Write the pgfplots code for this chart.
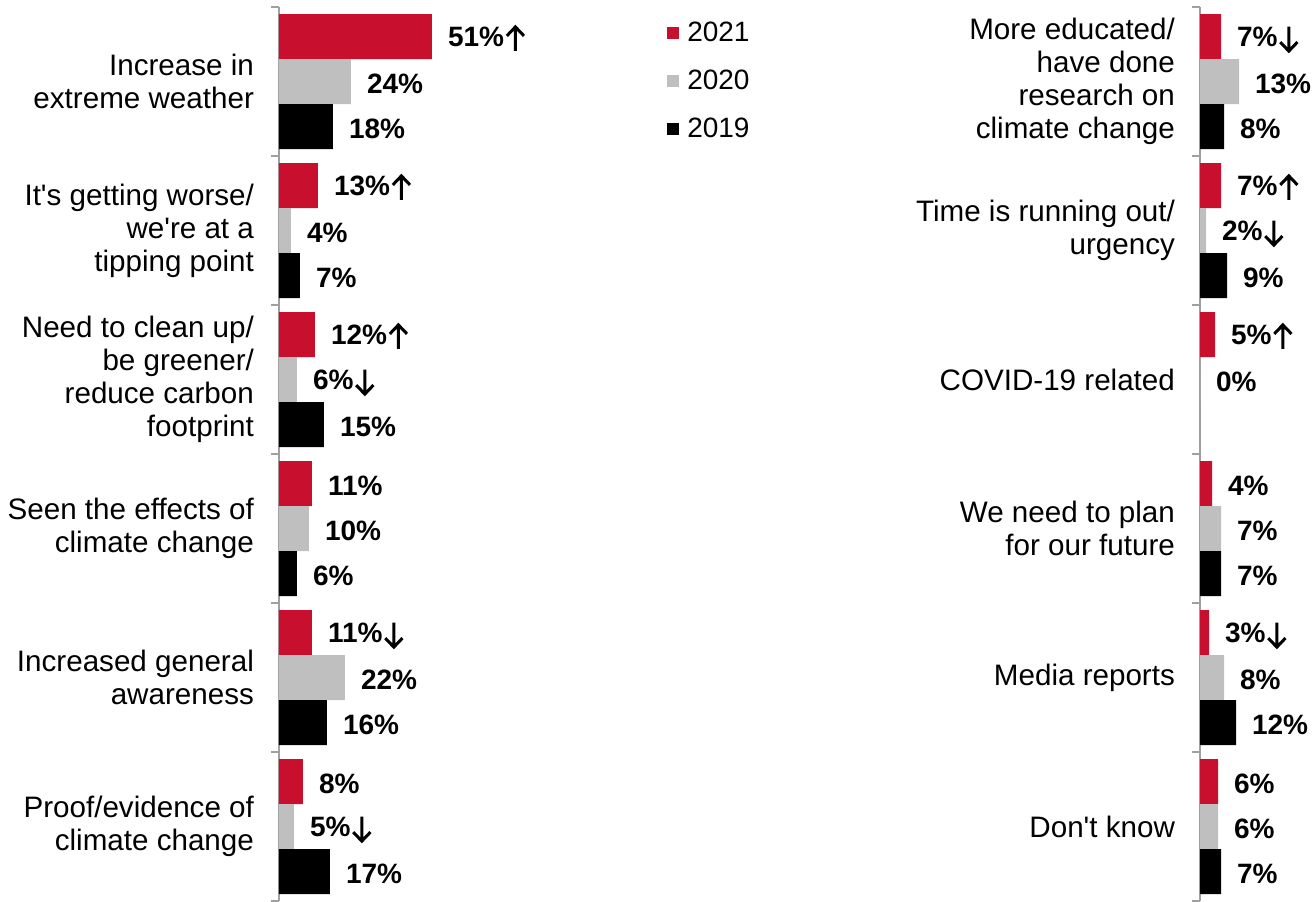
\documentclass[border=0pt]{standalone}
\usepackage{pgfplots}
\pgfplotsset{compat=1.18}
\usepackage{fontspec}
\setmainfont{Liberation Sans}
\newsavebox\upbox
\newsavebox\dnbox
\newcommand\up{\hspace{0.6pt}\usebox\upbox}
\newcommand\dn{\hspace{0.6pt}\usebox\dnbox}
\definecolor{cred}{RGB}{200,16,46}
\definecolor{cgrey}{RGB}{191,191,191}
\definecolor{caxis}{RGB}{160,160,160}
\pgfplotsset{
  sqleg/.style={legend image code/.code={\fill[##1,draw=none] (0pt,-3pt) rectangle (6pt,3pt);}},
  panel/.style={
    xbar, y dir=reverse,
    scale only axis, height=447pt,
    xmin=0, ymin=-0.5, ymax=5.5,
    clip=false,
    axis x line=none, axis y line*=left,
    y axis line style={caxis, line width=1pt},
    ytick={-0.5,0.5,1.5,2.5,3.5,4.5,5.5},
    tick align=outside, major tick length=4pt,
    ytick pos=left,
    y tick style={draw=caxis, line width=1pt},
    yticklabel style={align=right, font=\fontsize{14.8}{16.5}\selectfont, xshift=-5pt, yshift=-37.25pt},
    bar width=22.5pt,
    nodes near coords={\pgfplotspointmeta},
    point meta=explicit symbolic,
    every node near coord/.append style={font=\fontsize{14}{16}\selectfont\bfseries, anchor=west, xshift=4.5pt, yshift=-1.2pt, text=black},
    sqleg,
  },
}
\begin{document}
\sbox\upbox{\tikz[baseline=0pt]\draw[line width=1.5pt, line join=miter] (0,-2.2pt)--(0,9.8pt) (-4.3pt,5.3pt)--(0,9.8pt)--(4.3pt,5.3pt);}%
\sbox\dnbox{\tikz[baseline=0pt]\draw[line width=1.5pt, line join=miter] (0,10pt)--(0,-2.2pt) (-4.3pt,2.3pt)--(0,-2.2pt)--(4.3pt,2.3pt);}%
\begin{tikzpicture}
\path[use as bounding box] (-139.5pt,0pt) rectangle (516.5pt,450.5pt);
\begin{axis}[panel, at={(0pt,0pt)}, anchor=south west, width=90pt, xmax=60,
  yticklabels={{Increase in\\extreme weather},{It\textquotesingle s getting worse/\\we\textquotesingle re at a\\tipping point},{Need to clean up/\\be greener/\\reduce carbon\\footprint},{Seen the effects of\\climate change},{Increased general\\awareness},{Proof/evidence of\\climate change},{}},
  legend style={at={(axis description cs:2.155,0.9895)}, anchor=north west, draw=none, fill=none, font=\fontsize{14}{16}\selectfont, row sep=7.75pt, inner sep=0pt, nodes={inner sep=2.5pt}},
  legend cell align=left,
]
\addplot[fill=cred, draw=none, bar shift=22.5pt, sqleg] coordinates {
 (51,0) [51\%\up] (13,1) [13\%\up] (12,2) [12\%\up] (11,3) [11\%] (11,4) [11\%\dn] (8,5) [8\%]};
\addplot[fill=cgrey, draw=none, bar shift=0pt, sqleg] coordinates {
 (24,0) [24\%] (4,1) [4\%] (6,2) [6\%\dn] (10,3) [10\%] (22,4) [22\%] (5,5) [5\%\dn]};
\addplot[fill=black, draw=none, bar shift=-22.5pt, sqleg] coordinates {
 (18,0) [18\%] (7,1) [7\%] (15,2) [15\%] (6,3) [6\%] (16,4) [16\%] (17,5) [17\%]};
\legend{\hspace{1.5pt}2021,\hspace{1.5pt}2020,\hspace{1.5pt}2019}
\end{axis}
\begin{axis}[panel, at={(460.5pt,0pt)}, anchor=south west, width=30pt, xmax=20,
  yticklabels={{More educated/\\have done\\research on\\climate change},{Time is running out/\\urgency},{COVID-19 related},{We need to plan\\for our future},{Media reports},{Don\textquotesingle t know},{}},
]
\addplot[fill=cred, draw=none, bar shift=22.5pt] coordinates {
 (7,0) [7\%\dn] (7,1) [7\%\up] (5,2) [5\%\up] (4,3) [4\%] (3,4) [3\%\dn] (6,5) [6\%]};
\addplot[fill=cgrey, draw=none, bar shift=0pt] coordinates {
 (13,0) [13\%] (2,1) [2\%\dn] (0,2) [0\%] (7,3) [7\%] (8,4) [8\%] (6,5) [6\%]};
\addplot[fill=black, draw=none, bar shift=-22.5pt] coordinates {
 (8,0) [8\%] (9,1) [9\%] (7,3) [7\%] (12,4) [12\%] (7,5) [7\%]};
\end{axis}
\end{tikzpicture}
\end{document}
